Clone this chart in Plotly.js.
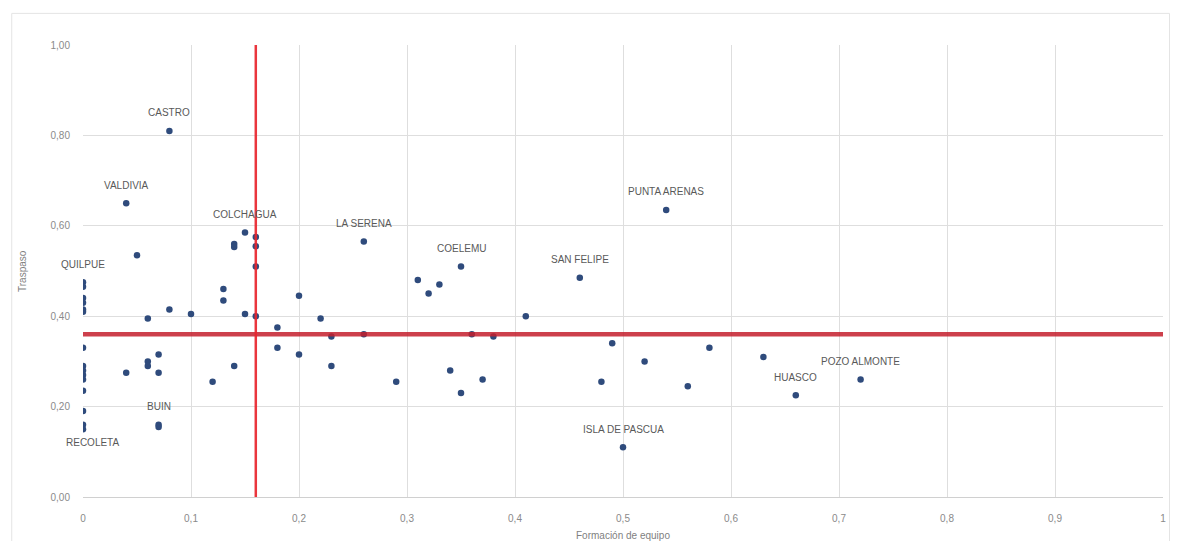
<!DOCTYPE html>
<html>
<head>
<meta charset="utf-8">
<script src="https://cdn.plot.ly/plotly-3.0.1.min.js"></script>
<style>
html,body{margin:0;padding:0;background:#fff;}
#chart{width:1180px;height:541px;}
</style>
</head>
<body>
<div id="chart"></div>
<script>
// Data: Formación de equipo (x) vs Traspaso (y)
const names = ['CASTRO','VALDIVIA','','COLCHAGUA','','','','','','',
  'QUILPUE','','','','','','','','','','','','','','RECOLETA',
  '','','','','','','','','','','','','','','','','','BUIN','',
  'LA SERENA','','','','','','','','','COELEMU','','','','','','',
  'SAN FELIPE','PUNTA ARENAS','','','','','','','HUASCO','POZO ALMONTE','ISLA DE PASCUA'];
const formacion = [0.08,0.04,0.05,0.15,0.14,0.14,0.16,0.16,0.16,0.16,
  0,0,0,0,0,0,0,0,0,0,0,0,0,0,0,
  0.06,0.08,0.10,0.13,0.13,0.15,0.18,0.18,0.20,0.20,0.07,0.06,0.06,0.04,0.07,0.12,0.14,0.07,0.07,
  0.26,0.22,0.23,0.26,0.23,0.29,0.31,0.32,0.33,0.35,0.36,0.38,0.34,0.35,0.37,0.41,
  0.46,0.54,0.49,0.52,0.48,0.56,0.58,0.63,0.66,0.72,0.50];
const traspaso = [0.81,0.65,0.535,0.585,0.56,0.553,0.575,0.555,0.51,0.40,
  0.475,0.465,0.44,0.43,0.415,0.41,0.33,0.29,0.28,0.27,0.26,0.235,0.19,0.16,0.15,
  0.395,0.415,0.405,0.46,0.435,0.405,0.375,0.33,0.445,0.315,0.315,0.30,0.29,0.275,0.275,0.255,0.29,0.16,0.155,
  0.565,0.395,0.355,0.36,0.29,0.255,0.48,0.45,0.47,0.51,0.36,0.355,0.28,0.23,0.26,0.40,
  0.485,0.635,0.34,0.30,0.255,0.245,0.33,0.31,0.225,0.26,0.11];
const labelBelow = ['RECOLETA'];

// Reference (average) lines
const umbralFormacion = 0.16;
const umbralTraspaso = 0.36;
const axisRange = [0, 1];

// Tick labels
const xTickVals = [0,0.1,0.2,0.3,0.4,0.5,0.6,0.7,0.8,0.9,1];
const xTickText = ['0','0,1','0,2','0,3','0,4','0,5','0,6','0,7','0,8','0,9','1'];
const yTickVals = [0,0.2,0.4,0.6,0.8,1];
const yTickText = ['0,00','0,20','0,40','0,60','0,80','1,00'];

const font = 'Liberation Sans, Arial, sans-serif';

const traces = [
  {
    type:'scatter', mode:'markers', x:formacion, y:traspaso,
    marker:{color:'#2F4B7C', size:6.5, line:{width:0}},
    hoverinfo:'x+y', showlegend:false
  },
  {
    type:'scatter', mode:'lines', x:axisRange, y:[umbralTraspaso, umbralTraspaso],
    line:{color:'rgba(196,30,45,0.85)', width:4.5}, hoverinfo:'skip', showlegend:false
  },
  {
    type:'scatter', mode:'lines', x:[umbralFormacion, umbralFormacion], y:axisRange,
    line:{color:'rgba(232,36,44,0.92)', width:2.5}, hoverinfo:'skip', showlegend:false
  }
];

const annotations = [];
names.forEach((n,i)=>{
  if(!n) return;
  const below = labelBelow.includes(n);
  annotations.push({
    x: formacion[i], y: traspaso[i], xref:'x', yref:'y', text:n, showarrow:false,
    yshift: below ? -13 : 18, xshift: below ? 9 : 0,
    font:{family:font, size:10, color:'#595959'}
  });
});
annotations.push({
  xref:'paper', yref:'paper', x:0.5, y:0, yshift:-38, yanchor:'middle',
  text:'Formación de equipo', showarrow:false,
  font:{family:font, size:10, color:'#7f7f7f'}
});
annotations.push({
  xref:'paper', yref:'paper', x:0, xshift:-61, y:0.5, textangle:-90, xanchor:'center',
  text:'Traspaso', showarrow:false,
  font:{family:font, size:10, color:'#7f7f7f'}
});

const layout = {
  width:1180, height:541,
  margin:{l:83, r:17, t:45, b:44},
  paper_bgcolor:'#ffffff', plot_bgcolor:'#ffffff',
  font:{family:font, size:10, color:'#7f7f7f'},
  xaxis:{
    range:axisRange, tickvals:xTickVals, ticktext:xTickText,
    showgrid:true, gridcolor:'#dedede', gridwidth:1,
    zeroline:false, showline:true, linecolor:'#d0d0d0', linewidth:1,
    ticks:'', ticklabelstandoff:12, tickfont:{family:font, size:10, color:'#8a8a8a'},
    fixedrange:true
  },
  yaxis:{
    range:axisRange, tickvals:yTickVals, ticktext:yTickText,
    showgrid:true, gridcolor:'#dedede', gridwidth:1,
    zeroline:false, showline:false,
    ticks:'', ticklabelstandoff:12, tickfont:{family:font, size:10, color:'#8a8a8a'},
    fixedrange:true
  },
  annotations: annotations,
  shapes:[{
    type:'rect', xref:'paper', yref:'paper',
    x0:-0.066, x1:1.006, y0:-0.11, y1:1.07,
    line:{color:'#e4e4e4', width:1}, fillcolor:'rgba(0,0,0,0)', layer:'below'
  }],
  showlegend:false
};

Plotly.newPlot('chart', traces, layout, {displayModeBar:false, staticPlot:true});
</script>
</body>
</html>
